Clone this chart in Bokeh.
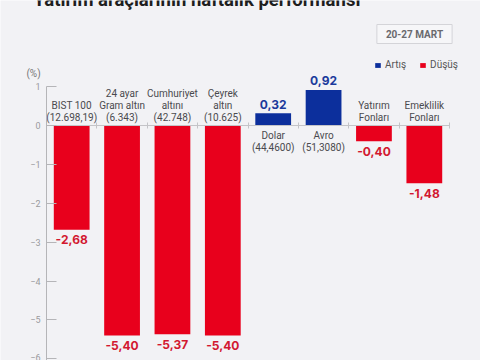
from bokeh.plotting import figure
from bokeh.models import (ColumnDataSource, Range1d, LinearAxis, FixedTicker,
                          Legend, LegendItem, Label)
from bokeh.core.properties import value
from bokeh.embed import file_html
from bokeh.resources import INLINE

# ---- data ----
title_text = "Yatırım araçlarının haftalık performansı"
date_text = "20-27 MART"
names = ["BIST 100", "24 ayar\nGram altın", "Cumhuriyet\naltını", "Çeyrek\naltın",
         "Dolar", "Avro", "Yatırım\nFonları", "Emeklilik\nFonları"]
prices = ["(12.698,19)", "(6.343)", "(42.748)", "(10.625)",
          "(44,4600)", "(51,3080)", "", ""]
changes = [-2.68, -5.40, -5.37, -5.40, 0.32, 0.92, -0.40, -1.48]
y_ticks = [-6, -5, -4, -3, -2, -1, 0, 1]
legend_labels = ["Artış", "Düşüş"]

BG = "#f2f2f5"
BLUE = "#0c2f9c"
RED = "#e8001c"
BLUE_TXT = "#1b3a9c"
RED_TXT = "#d21830"


def fmt(v):
    return f"{v:.2f}".replace(".", ",")


def build(sign):
    idx = [i for i, c in enumerate(changes) if (c > 0) == sign]
    lab = []
    for i in idx:
        lab.append(names[i] + ("\n" + prices[i] if prices[i] else ""))
    return ColumnDataSource(dict(
        x=[i + 0.5 for i in idx],
        top=[changes[i] for i in idx],
        zero=[0] * len(idx),
        val=[fmt(changes[i]) for i in idx],
        lab=lab,
    ))


pos = build(True)
neg = build(False)

n = len(changes)
p = figure(width=480, height=360, output_backend="svg", toolbar_location=None,
           x_range=Range1d(-0.913, 8.615), y_range=Range1d(-6.044, 3.223),
           min_border=0, x_axis_type=None, y_axis_type=None,
           background_fill_color=BG, border_fill_color=BG, outline_line_color=None)
p.grid.visible = False

# y axis at the left edge of the categories
ya = LinearAxis(ticker=FixedTicker(ticks=y_ticks), bounds=(-6.044, 1), fixed_location=0)
ya.axis_line_color = "#b5b5b8"
ya.major_tick_line_color = "#b5b5b8"
ya.major_tick_in = 10
ya.major_tick_out = 0
ya.minor_tick_line_color = None
ya.major_label_standoff = 6
ya.major_label_text_color = "#9a9a9e"
ya.major_label_text_font = "Roboto"
ya.major_label_text_font_size = "9px"
p.add_layout(ya, "left")

# x baseline axis at zero with boundary ticks
xa = LinearAxis(ticker=FixedTicker(ticks=list(range(n + 1))), fixed_location=0,
                bounds=(0, n))
xa.axis_line_color = "#c4c4c8"
xa.major_tick_line_color = "#c4c4c8"
xa.major_tick_in = 3
xa.major_tick_out = 3
xa.minor_tick_line_color = None
xa.major_label_text_font_size = "0px"
xa.major_label_text_color = None
p.add_layout(xa, "below")

rb = p.vbar(x="x", top="top", bottom="zero", width=0.71, source=pos,
            fill_color=BLUE, line_color=None)
rr = p.vbar(x="x", top="top", bottom="zero", width=0.71, source=neg,
            fill_color=RED, line_color=None)

# value labels
p.text(x="x", y="top", text="val", source=pos, y_offset=-9,
       text_align="center", text_baseline="middle", text_color=BLUE_TXT,
       text_font=value("Inter"), text_font_style="bold", text_font_size="12px")
p.text(x="x", y="top", text="val", source=neg, y_offset=10,
       text_align="center", text_baseline="middle", text_color=RED_TXT,
       text_font=value("Inter"), text_font_style="bold", text_font_size="12px")

# category labels
p.text(x="x", y="zero", text="lab", source=neg, y_offset=-3,
       text_align="center", text_baseline="bottom", text_color="#4a4a4e",
       text_font=value("Roboto"), text_font_size="10px", text_line_height=1.1)
p.text(x="x", y="zero", text="lab", source=pos, y_offset=4,
       text_align="center", text_baseline="top", text_color="#4a4a4e",
       text_font=value("Roboto"), text_font_size="10px", text_line_height=1.15)

# (%) unit label
p.add_layout(Label(x=33, y=287, x_units="screen", y_units="screen", text="(%)",
                   text_align="center", text_baseline="middle", text_color="#777",
                   text_font="Roboto", text_font_size="10px"))

# title (cut at top as in reference)
p.add_layout(Label(x=33, y=361, x_units="screen", y_units="screen", text=title_text,
                   text_align="left", text_baseline="alphabetic", text_color="#1e1e1e",
                   text_font="Roboto", text_font_style="bold", text_font_size="18.5px"))

# date box
p.add_layout(Label(x=414, y=326.5, x_units="screen", y_units="screen", text=date_text,
                   text_align="center", text_baseline="middle", text_color="#6a6a6e",
                   text_font="Roboto", text_font_style="bold", text_font_size="10px",
                   background_fill_color="#f6f6f8", border_line_color="#d4d4d8",
                   padding=dict(left=9, right=9, top=4, bottom=4)))

# legend
leg = Legend(items=[LegendItem(label=legend_labels[0], renderers=[rb]),
                    LegendItem(label=legend_labels[1], renderers=[rr])],
             orientation="horizontal", location=(374, 290),
             glyph_width=7, glyph_height=6, label_standoff=4, spacing=13,
             padding=0, margin=0, label_height=10, background_fill_alpha=0,
             border_line_color=None, label_text_font="Roboto",
             label_text_font_size="10px", label_text_color="#555")
p.add_layout(leg)

open("out.html", "w").write(file_html(p, INLINE))
